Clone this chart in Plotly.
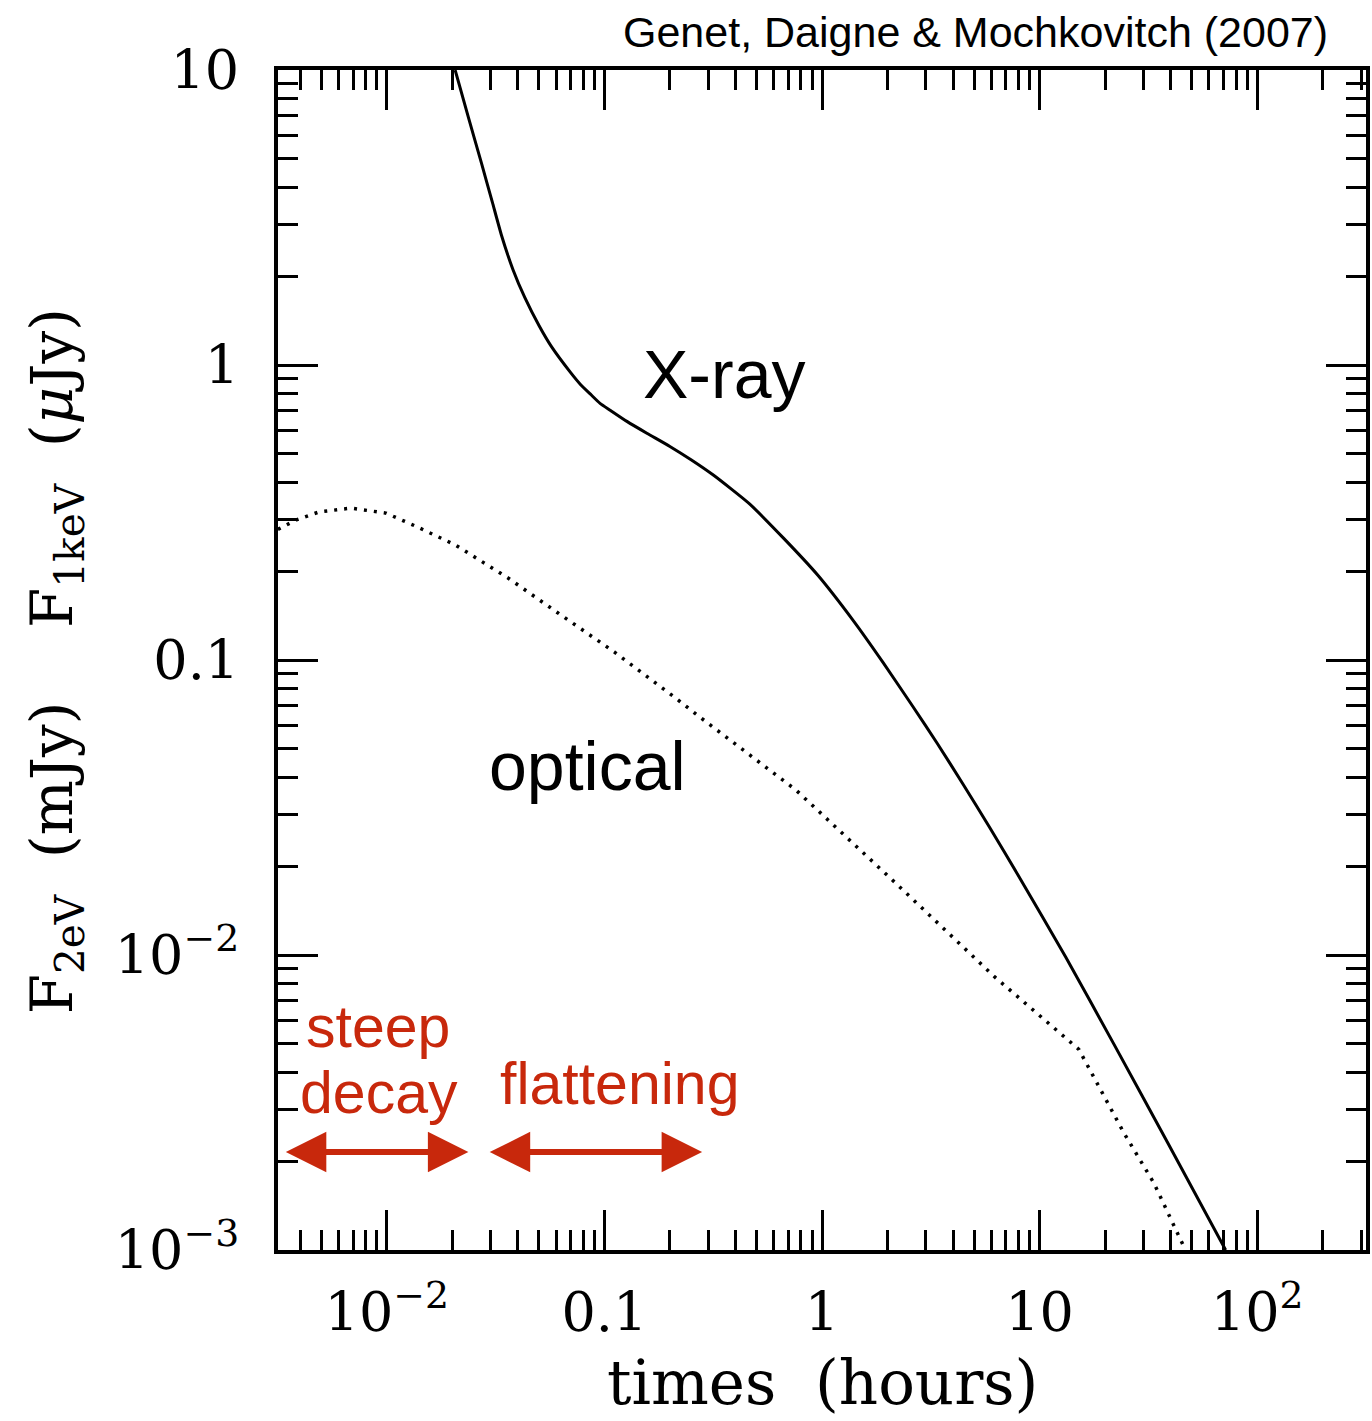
import plotly.graph_objects as go

# ---- data (time in hours, flux) ----
xray_time = [0.02061, 0.02366, 0.02723, 0.03055, 0.03365, 0.03802, 0.04305, 0.05012, 0.05702,
             0.06998, 0.07762, 0.08630, 0.09550, 0.1067, 0.1274, 0.1574, 0.2000, 0.2512, 0.3177,
             0.4645, 0.6637, 0.9550, 1.384, 1.910, 2.606, 3.388, 4.406, 5.888, 7.943, 13.18,
             21.98, 38.90, 71.61]
xray_flux = [10.0, 6.950, 4.831, 3.565, 2.754, 2.104, 1.694, 1.358, 1.156,
             0.9419, 0.8590, 0.7962, 0.7413, 0.7015, 0.6427, 0.5861, 0.5297, 0.4764, 0.4227,
             0.3381, 0.2594, 0.1941, 0.1368, 0.09795, 0.06982, 0.05212, 0.03837, 0.02710,
             0.01871, 0.009840, 0.004977, 0.002301, 0.0010]

opt_time = [0.00316, 0.00384, 0.00489, 0.00686, 0.00989, 0.01355, 0.02065, 0.03606, 0.0630,
            0.1112, 0.2089, 0.2742, 0.7603, 2.178, 6.237, 15.14, 24.43, 33.5, 46.5]
opt_flux = [0.2773, 0.2985, 0.3177, 0.3273, 0.3148, 0.2844, 0.2455, 0.1897, 0.1422,
            0.1064, 0.0750, 0.0641, 0.0362, 0.01754, 0.00841, 0.00479, 0.00249, 0.001687, 0.00101]

x_tickvals = [0.01, 0.1, 1, 10, 100]
x_ticktext = ["10<sup>−2</sup>", "0.1", "1", "10", "10<sup>2</sup>"]
y_tickvals = [0.001, 0.01, 0.1, 1, 10]
y_ticktext = ["10<sup>−3</sup>", "10<sup>−2</sup>", "0.1", "1", "10"]
minor_vals = [m * 10.0 ** e for e in range(-4, 4) for m in range(2, 10)]

RED = "rgb(200,40,12)"
SERIF = "DejaVu Serif"
SANS = "Liberation Sans"

fig = go.Figure()
fig.add_trace(go.Scatter(x=xray_time, y=xray_flux, mode="lines",
                         line=dict(color="black", width=3, shape="spline", smoothing=0.5),
                         showlegend=False, hoverinfo="skip"))
fig.add_trace(go.Scatter(x=opt_time, y=opt_flux, mode="lines",
                         line=dict(color="black", width=3.5, dash="3px,7px"),
                         showlegend=False, hoverinfo="skip"))

axis_common = dict(
    type="log", showgrid=False, zeroline=False, showline=True, linecolor="black",
    linewidth=4, mirror="allticks", ticks="inside", ticklen=40, tickwidth=3,
    tickcolor="black", tickmode="array",
    tickfont=dict(family=SERIF, size=54, color="black"),
    minor=dict(ticks="inside", ticklen=20, tickwidth=3, tickcolor="black",
               tickmode="array", tickvals=minor_vals, showgrid=False),
)

fig.update_xaxes(range=[-2.5, 2.5], tickvals=x_tickvals, ticktext=x_ticktext,
                 ticklabelstandoff=12, **axis_common)
fig.update_yaxes(range=[-3, 1], tickvals=y_tickvals, ticktext=y_ticktext,
                 ticklabelstandoff=24, **axis_common)

ann = []
ann.append(dict(text="Genet, Daigne &amp; Mochkovitch (2007)", xref="paper", yref="paper",
                x=0.967, y=1.032, xanchor="right", yanchor="middle", showarrow=False,
                font=dict(family=SANS, size=43, color="black")))
ann.append(dict(text="X-ray", xref="x", yref="y", x=-0.83, y=-0.03, xanchor="left",
                yanchor="middle", showarrow=False, font=dict(family=SANS, size=68, color="black")))
ann.append(dict(text="optical", xref="x", yref="y", x=-1.54, y=-1.36, xanchor="left",
                yanchor="middle", showarrow=False, font=dict(family=SANS, size=68, color="black")))
ann.append(dict(text="steep", xref="x", yref="y", x=-2.38, y=-2.244, xanchor="left",
                yanchor="middle", showarrow=False, font=dict(family=SANS, size=59, color=RED)))
ann.append(dict(text="decay", xref="x", yref="y", x=-2.41, y=-2.468, xanchor="left",
                yanchor="middle", showarrow=False, font=dict(family=SANS, size=59, color=RED)))
ann.append(dict(text="flattening", xref="x", yref="y", x=-1.49, y=-2.437, xanchor="left",
                yanchor="middle", showarrow=False, font=dict(family=SANS, size=59, color=RED)))
for x0, x1 in [(-2.471, -1.625), (-1.534, -0.551)]:
    ann.append(dict(text="", xref="x", yref="y", axref="x", ayref="y",
                    x=x1, y=-2.668, ax=x0, ay=-2.668, showarrow=True,
                    arrowhead=2, startarrowhead=2, arrowside="end+start",
                    arrowsize=1.35, startarrowsize=1.35, arrowwidth=6,
                    arrowcolor=RED, standoff=0, startstandoff=0))
ann.append(dict(text="times  (hours)", xref="paper", yref="paper", x=0.5, y=-0.112,
                xanchor="center", yanchor="middle", showarrow=False,
                font=dict(family=SERIF, size=61, color="black")))
ann.append(dict(text="F<sub>2eV</sub>  (mJy)    F<sub>1keV</sub>  (<i>μ</i>Jy)",
                xref="paper", yref="paper", x=-0.204, y=0.499, textangle=-90,
                xanchor="center", yanchor="middle", showarrow=False,
                font=dict(family=SERIF, size=58, color="black")))

fig.update_layout(width=1372, height=1421, margin=dict(l=278, r=2, t=70, b=171),
                  plot_bgcolor="white", paper_bgcolor="white", annotations=ann)

fig.write_html("out.html")
